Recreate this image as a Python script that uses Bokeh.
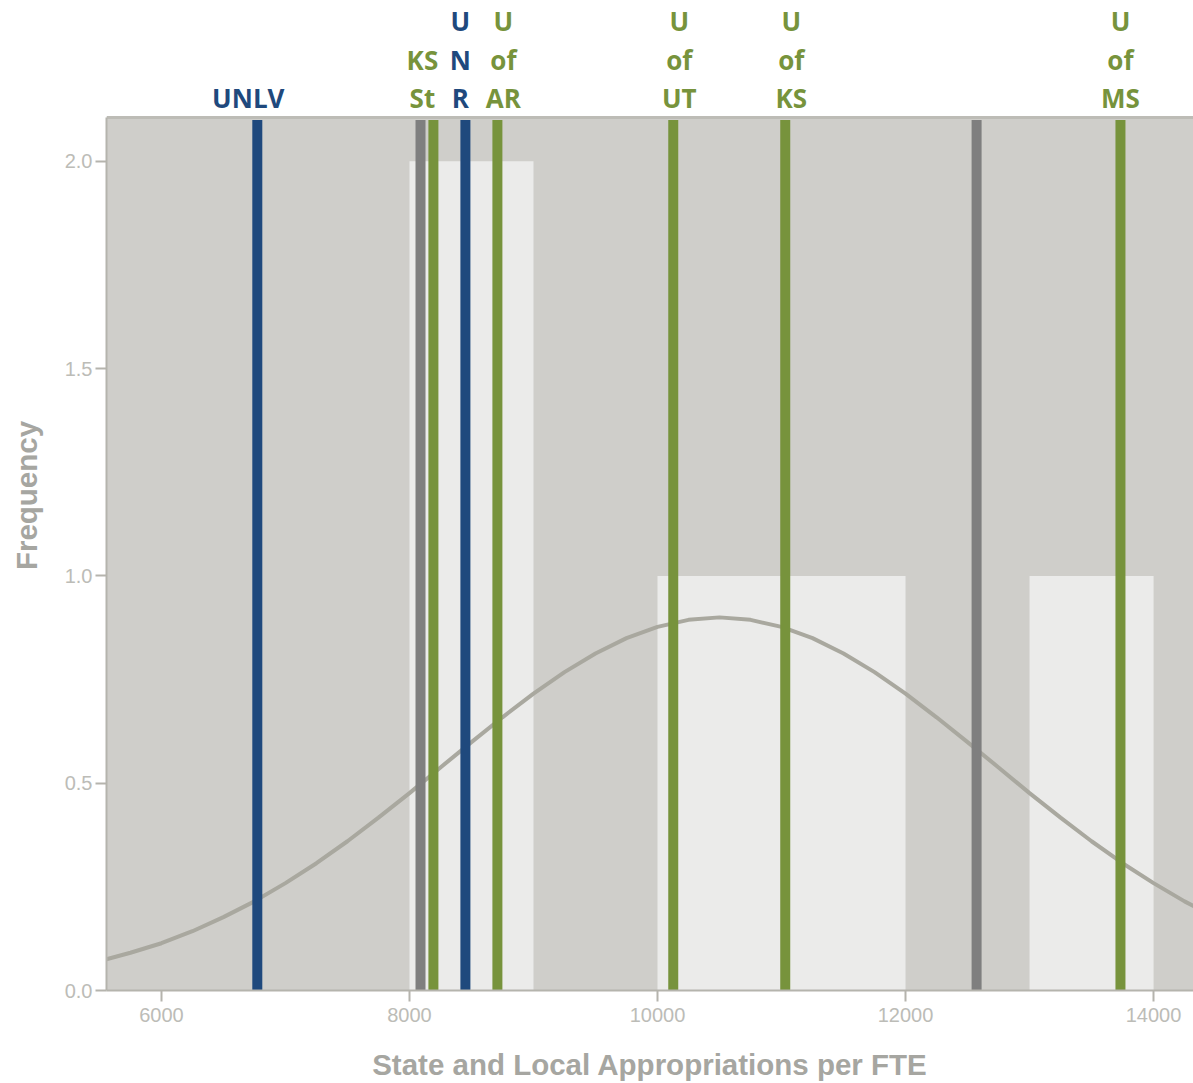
from bokeh.plotting import figure
from bokeh.models import Range1d, FixedTicker, NumeralTickFormatter
from bokeh.core.properties import value
from bokeh.embed import file_html
from bokeh.resources import INLINE

# Histogram bins (State and Local Appropriations per FTE)
bin_left = [8000, 10000, 11000, 13000]
bin_right = [9000, 11000, 12000, 14000]
bin_count = [2, 1, 1, 1]

# Fitted normal curve
curve_x = [5500, 5750, 6000, 6250, 6500, 6750, 7000, 7250, 7500, 7750, 8000, 8250, 8500,
           8750, 9000, 9250, 9500, 9750, 10000, 10250, 10500, 10750, 11000, 11250, 11500,
           11750, 12000, 12250, 12500, 12750, 13000, 13250, 13500, 13750, 14000, 14250, 14500]
curve_y = [0.071, 0.091, 0.114, 0.143, 0.177, 0.215, 0.259, 0.307, 0.360, 0.417, 0.476, 0.538,
           0.599, 0.659, 0.716, 0.768, 0.813, 0.850, 0.877, 0.894, 0.900, 0.894, 0.877, 0.850,
           0.813, 0.768, 0.716, 0.659, 0.599, 0.538, 0.476, 0.417, 0.360, 0.307, 0.259, 0.215, 0.177]

# Marker lines
inst_values = [6773, 8089, 8193, 8451, 8709, 10127, 11030, 12573, 13733]
inst_group = ["blue", "gray", "green", "blue", "green", "green", "green", "gray", "green"]
label_lines = [["UNLV"], [], ["KS", "St"], ["U", "N", "R"], ["U", "of", "AR"],
               ["U", "of", "UT"], ["U", "of", "KS"], [], ["U", "of", "MS"]]

x_ticks = [6000, 8000, 10000, 12000, 14000]
y_ticks = [0.0, 0.5, 1.0, 1.5, 2.0]

# styling
colors = {"blue": "#1f497d", "green": "#77933c", "gray": "#7f7f7f"}
label_nudge_px = [-9, 0, -11, -5, 6, 6, 6, 0, 0]

X0, X1 = 5557, 14322
PLOT_TOP = 2.106          # top of the grey plotting area
PX_PER_UNIT = 415.0
FRAME_H = 991
Y_TOP = FRAME_H / PX_PER_UNIT   # extra room above for the labels

p = figure(width=1193, height=1083, output_backend="svg", toolbar_location=None,
           x_range=Range1d(X0, X1), y_range=Range1d(0, Y_TOP),
           min_border_left=106, min_border_right=0, min_border_top=0, min_border_bottom=92)
p.background_fill_color = "white"
p.border_fill_color = "white"
p.grid.visible = False
p.outline_line_color = None

# grey plotting area
p.quad(left=[X0], right=[X1], bottom=[0], top=[PLOT_TOP], fill_color="#cfceca", line_color=None)
p.segment(x0=[X0], y0=[PLOT_TOP], x1=[X1], y1=[PLOT_TOP], line_color="#bdbcb6", line_width=3)

p.quad(left=bin_left, right=bin_right, bottom=0, top=bin_count,
       fill_color="#ebebea", line_color=None)
p.line(curve_x, curve_y, line_color="#a9a89f", line_width=4)

top_line = PLOT_TOP - 2.5 / PX_PER_UNIT
p.segment(x0=inst_values, y0=[0] * len(inst_values), x1=inst_values,
          y1=[top_line] * len(inst_values),
          line_color=[colors[g] for g in inst_group], line_width=10, line_cap="butt")

tx, ty, tt, tc, to = [], [], [], [], []
base_y = (FRAME_H - 98) / PX_PER_UNIT
for v, g, lines, dx in zip(inst_values, inst_group, label_lines, label_nudge_px):
    n = len(lines)
    for i, t in enumerate(lines):
        k = n - 1 - i
        tx.append(v)
        ty.append(base_y + 38.5 * k / PX_PER_UNIT)
        tt.append(t)
        tc.append(colors[g])
        to.append(dx)
p.text(x=tx, y=ty, text=tt, text_color=tc, x_offset=to, text_align="center",
       text_baseline="alphabetic",
       text_font=value("Open Sans"), text_font_style="bold", text_font_size="26px")

for ax in (p.xaxis, p.yaxis):
    ax.axis_line_color = "#b5b4ad"
    ax.axis_line_width = 2
    ax.major_tick_line_color = "#b5b4ad"
    ax.major_tick_line_width = 2
    ax.major_tick_in = 0
    ax.major_tick_out = 11
    ax.minor_tick_line_color = None
    ax.major_label_text_color = "#bcbcb7"
    ax.major_label_text_font = "Liberation Sans"
    ax.major_label_text_font_size = "20px"
    ax.axis_label_text_color = "#a6a6a1"
    ax.axis_label_text_font = "Liberation Sans"
    ax.axis_label_text_font_style = "bold"
    ax.axis_label_text_font_size = "29.5px"

p.yaxis.bounds = (0, PLOT_TOP)
p.xaxis.ticker = FixedTicker(ticks=x_ticks)
p.yaxis.ticker = FixedTicker(ticks=y_ticks)
p.yaxis.formatter = NumeralTickFormatter(format="0.0")
p.xaxis.formatter = NumeralTickFormatter(format="0")
p.xaxis.axis_label = "State and Local Appropriations per FTE"
p.yaxis.axis_label = "Frequency"
p.xaxis.major_label_standoff = 6
p.xaxis.axis_label_standoff = 23
p.yaxis.major_label_standoff = 3
p.yaxis.axis_label_standoff = 19

open("out.html", "w").write(file_html(p, INLINE))
